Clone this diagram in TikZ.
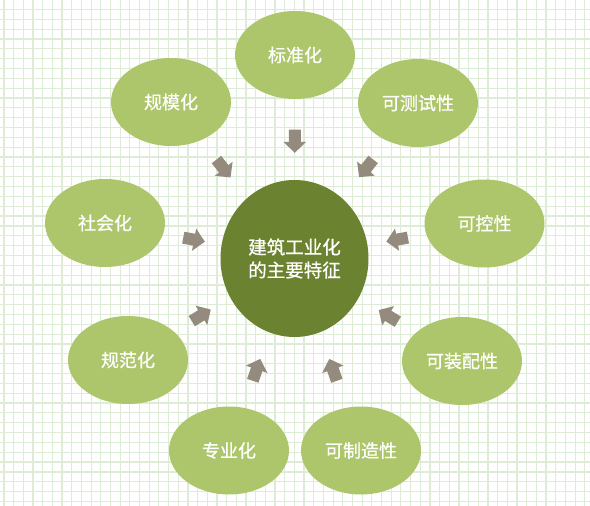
\documentclass[tikz,border=0pt]{standalone}
\usepackage{fontspec}
\newfontfamily\cjk[FakeBold=0.7]{Noto Sans CJK SC}
\usetikzlibrary{calc,arrows.meta,shapes.geometric}
\definecolor{leaf}{RGB}{173,198,107}
\definecolor{moss}{RGB}{107,130,48}
\definecolor{pebble}{RGB}{148,138,126}
\definecolor{mesh}{RGB}{222,236,215}
\tikzset{>={Triangle[width=22pt,length=11pt]}}
\tikzset{trait/.style={ellipse,fill=leaf,minimum width=120pt,minimum height=88pt,inner sep=0pt,text=white,font=\cjk\fontsize{18}{22}\selectfont}}
\tikzset{core/.style={ellipse,fill=moss,minimum width=148pt,minimum height=157pt,inner sep=0pt,text=white,align=center,font=\cjk\fontsize{18.5}{23}\selectfont}}

\begin{document}
\begin{tikzpicture}[x=1pt,y=-1pt]
\useasboundingbox (0,0) rectangle (590,506);
\fill[white] (0,0) rectangle (590,506);
\foreach \i in {0,...,60}
  \draw[mesh,line width=1.2pt] (4+\i*9.68,0) -- (4+\i*9.68,506);
\foreach \j in {0,...,51}
  \draw[mesh,line width=1.2pt] (0,-0.4+\j*9.84) -- (590,-0.4+\j*9.84);
\node[core] (core) at (294.5,258.5) {建筑工业化\\的主要特征};
\node[trait] (std) at (295,55) {标准化};
\node[trait] (test) at (418,103) {可测试性};
\node[trait] (ctrl) at (484.5,223.5) {可控性};
\node[trait] (asm) at (462,361) {可装配性};
\node[trait] (mfg) at (361,450.5) {可制造性};
\node[trait] (spec) at (229,450.5) {专业化};
\node[trait] (norm) at (128,360) {规范化};
\node[trait] (soc) at (105,223) {社会化};
\node[trait] (scale) at (171,102) {规模化};
\foreach \s/\f in {std/.576,test/.58,ctrl/.54,asm/.56,mfg/.58,spec/.58,norm/.56,soc/.53,scale/.575}
  \draw[->,pebble,line width=12pt] ($(core)!\f+.057!(\s)$) -- ($(core)!\f-.057!(\s)$);
\end{tikzpicture}
\end{document}
